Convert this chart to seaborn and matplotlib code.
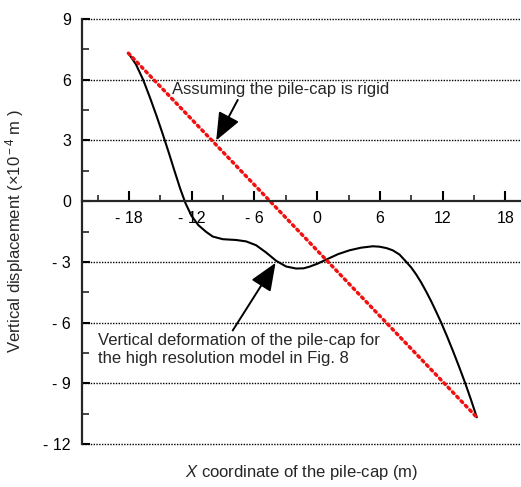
import matplotlib
matplotlib.use("Agg")
import matplotlib.pyplot as plt
import seaborn as sns
import pandas as pd

# Vertical deformation of the pile-cap (high resolution model)
cap_x = [-18.06, -17.34, -16.66, -16.0, -15.38, -14.78, -14.2, -13.66, -13.12, -12.6,
         -12.03, -11.36, -10.62, -9.99, -9.03, -7.75, -6.79, -5.84, -4.88, -3.92,
         -2.97, -2.01, -1.31, -0.74, 0.03, 0.86, 1.99, 3.09, 4.19, 5.32,
         5.96, 6.63, 7.23, 7.88, 8.52, 9.0, 9.47, 9.95, 10.43, 10.91,
         11.39, 11.87, 12.44, 13.01, 13.59, 14.16, 14.72, 15.27]
cap_y = [7.31, 6.76, 6.01, 5.12, 4.23, 3.32, 2.40, 1.51, 0.64, -0.10,
         -0.72, -1.19, -1.52, -1.75, -1.88, -1.92, -1.99, -2.18, -2.54, -2.95,
         -3.23, -3.33, -3.32, -3.24, -3.09, -2.89, -2.62, -2.43, -2.30, -2.23,
         -2.25, -2.32, -2.43, -2.64, -3.0, -3.28, -3.62, -4.02, -4.47, -4.95,
         -5.47, -6.01, -6.70, -7.43, -8.20, -8.99, -9.82, -10.68]

# Rigid pile-cap assumption: straight line between the end points
rigid_x = [-18.06, 15.27]
rigid_y = [7.31, -10.68]

x_ticks = [-18, -12, -6, 0, 6, 12, 18]
x_tick_labels = ["- 18", "- 12", "- 6", "0", "6", "12", "18"]
y_ticks = [9, 6, 3, 0, -3, -6, -9, -12]
y_tick_labels = ["9", "6", "3", "0", "- 3", "- 6", "- 9", "- 12"]

sns.set_style("ticks")
plt.rcParams["font.family"] = ["Liberation Sans", "DejaVu Sans"]
plt.rcParams["mathtext.fontset"] = "custom"
plt.rcParams["mathtext.rm"] = "Liberation Sans"
plt.rcParams["mathtext.it"] = "Liberation Sans:italic"

fig = plt.figure(figsize=(5.21, 4.87), dpi=100)
ax = fig.add_axes([82 / 521, 1 - 444 / 487, 1 - 82 / 521, (444 - 19) / 487])

cap_df = pd.DataFrame({"x": cap_x, "y": cap_y})
rigid_df = pd.DataFrame({"x": rigid_x, "y": rigid_y})

# horizontal dotted grid
for yv in y_ticks:
    if yv != 0:
        ax.axhline(yv, color="black", lw=1.0, ls=(0, (1, 1)), zorder=1, clip_on=False)

sns.lineplot(data=cap_df, x="x", y="y", sort=False, estimator=None,
             color="black", lw=1.5, ax=ax, zorder=3,
             solid_joinstyle="round", solid_capstyle="round")
sns.lineplot(data=rigid_df, x="x", y="y", sort=False, estimator=None,
             color="#f01010", lw=2.5, ax=ax, zorder=4,
             linestyle=(0, (0.6, 1.2)), dash_capstyle="round")

ax.set_xlim(-22.5, 19.5)
ax.set_ylim(-12, 9)

ax.spines["top"].set_visible(False)
ax.spines["right"].set_visible(False)
ax.spines["bottom"].set_position(("data", 0))
ax.spines["left"].set_linewidth(1.6)
ax.spines["bottom"].set_linewidth(1.6)
ax.spines["left"].set_zorder(5)
ax.spines["bottom"].set_zorder(5)

ax.set_xticks(x_ticks)
ax.set_xticklabels(x_tick_labels)
ax.set_xticks([-21, -15, -9, -3, 3, 9, 15], minor=True)
ax.set_yticks(y_ticks)
ax.set_yticklabels(y_tick_labels)
ax.set_yticks([7.5, 4.5, 1.5, -1.5, -4.5, -7.5, -10.5], minor=True)

ax.tick_params(axis="x", which="major", direction="in", length=7, width=1.5,
               pad=7, labelsize=11.5, colors="black")
ax.tick_params(axis="x", which="minor", direction="in", length=4, width=1.2)
ax.tick_params(axis="y", which="major", direction="in", length=6, width=1.5,
               pad=8, labelsize=11.5, colors="black")
ax.tick_params(axis="y", which="minor", direction="in", length=5, width=1.2)

ax.set_xlabel(r"$\it{X}$ coordinate of the pile-cap (m)", fontsize=12)
ax.xaxis.set_label_coords(0.5, -0.045)
ax.set_ylabel(r"Vertical displacement (×10$^{\rm -4}$ m )", fontsize=12)
ax.yaxis.set_label_coords(-0.128, 0.5)

arrow_style = dict(arrowstyle="-|>,head_length=1.7,head_width=0.7",
                   mutation_scale=10, color="black", lw=1.4,
                   shrinkA=0, shrinkB=0)
ax.annotate("", xy=(-9.66, 3.0), xytext=(-7.6, 5.0), arrowprops=arrow_style, zorder=6)
ax.text(-13.85, 5.5, "Assuming the pile-cap is rigid", fontsize=12,
        ha="left", va="center", zorder=6)

ax.annotate("", xy=(-3.98, -3.05), xytext=(-8.08, -6.39), arrowprops=arrow_style, zorder=6)
ax.text(-21.0, -7.33, "Vertical deformation of the pile-cap for\nthe high resolution model in Fig. 8",
        fontsize=12, ha="left", va="center", linespacing=1.3, zorder=6)

fig.savefig("out.png", dpi=100)
